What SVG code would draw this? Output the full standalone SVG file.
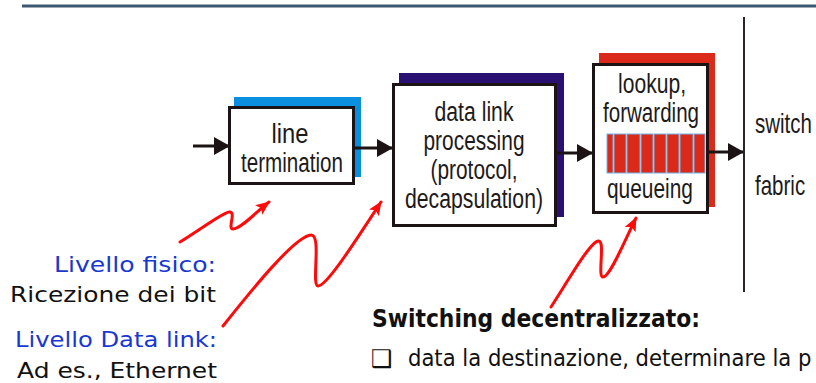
<svg xmlns="http://www.w3.org/2000/svg" width="816" height="383" viewBox="0 0 816 383">
<style>
.box{fill:#fff;stroke:#1c1414;stroke-width:3}
.bt{font-family:"Liberation Sans",Arial,sans-serif;font-size:27px;fill:#1e1a1a;text-anchor:middle}
.st{font-family:"Liberation Sans",Arial,sans-serif;font-size:27px;fill:#1e1a1a}
.lbl{font-family:"DejaVu Sans","Noto Sans",sans-serif;font-size:22px;text-anchor:end}
.blue{fill:#1838d0}
.blk{fill:#111}
.conn{fill:none;stroke:#1c1414;stroke-width:3}
.red{fill:none;stroke:#ff0a0a;stroke-width:3;stroke-linecap:round}
.body{font-family:"DejaVu Sans","Noto Sans",sans-serif;fill:#111}
</style>
<defs>
<marker id="ah" markerUnits="userSpaceOnUse" markerWidth="16" markerHeight="18" refX="15" refY="9" orient="auto">
<path d="M0,0 L16,9 L0,18 z" fill="#1c1414"/>
</marker>
<marker id="rh" markerUnits="userSpaceOnUse" markerWidth="14" markerHeight="12" refX="13" refY="6" orient="auto">
<path d="M0,0 L14,6 L0,12 L3,6 z" fill="#ff0a0a"/>
</marker>
</defs>
<line x1="22" y1="6" x2="816" y2="6" stroke="#3a5870" stroke-width="3"/>
<line x1="744" y1="17" x2="744" y2="292" stroke="#2a2424" stroke-width="2"/>
<g id="line-termination">
<rect x="234" y="97" width="127" height="80" fill="#0a8fe0"/>
<rect class="box" x="229.5" y="107.5" width="124" height="76"/>
<text class="bt" x="290" y="143" textLength="37" lengthAdjust="spacingAndGlyphs" font-size="28">line</text>
<text class="bt" x="292" y="172" textLength="102" lengthAdjust="spacingAndGlyphs" font-size="28">termination</text>
</g>
<g id="data-link-processing">
<rect x="399" y="73" width="165" height="144" fill="#2a1070"/>
<rect class="box" x="393.5" y="84.5" width="162" height="141"/>
<text class="bt" x="474" y="121" textLength="79" lengthAdjust="spacingAndGlyphs">data link</text>
<text class="bt" x="474" y="150" textLength="101" lengthAdjust="spacingAndGlyphs">processing</text>
<text class="bt" x="474" y="179" textLength="87" lengthAdjust="spacingAndGlyphs">(protocol,</text>
<text class="bt" x="474" y="208" textLength="138" lengthAdjust="spacingAndGlyphs">decapsulation)</text>
</g>
<g id="lookup-forwarding-queueing">
<rect x="599" y="53" width="116" height="154" fill="#dc2a1a"/>
<rect class="box" x="593.5" y="64.5" width="114" height="148"/>
<text class="bt" x="652" y="93" textLength="68" lengthAdjust="spacingAndGlyphs">lookup,</text>
<text class="bt" x="651" y="122" textLength="96" lengthAdjust="spacingAndGlyphs">forwarding</text>
<g stroke="#70b4e8" stroke-width="1" fill="#dc2a1a">
<rect x="607" y="134" width="6" height="39"/>
<rect x="614" y="134" width="12" height="39"/>
<rect x="627" y="134" width="13" height="39"/>
<rect x="641" y="134" width="12" height="39"/>
<rect x="654" y="134" width="12" height="39"/>
<rect x="667" y="134" width="12" height="39"/>
<rect x="680" y="134" width="13" height="39"/>
<rect x="694" y="134" width="11" height="39"/>
</g>
<text class="bt" x="650" y="198" textLength="86" lengthAdjust="spacingAndGlyphs">queueing</text>
</g>
<g id="switch-fabric">
<text class="st" transform="translate(755,133) scale(0.76,1)">switch</text>
<text class="st" transform="translate(755,195) scale(0.76,1)">fabric</text>
</g>
<g id="connectors">
<line class="conn" x1="193" y1="146" x2="229" y2="146" marker-end="url(#ah)"/>
<line class="conn" x1="355" y1="148" x2="392" y2="148" marker-end="url(#ah)"/>
<line class="conn" x1="557" y1="153" x2="592" y2="153" marker-end="url(#ah)"/>
<line class="conn" x1="709" y1="152" x2="743" y2="152" marker-end="url(#ah)"/>
<path class="red" d="M180,242 C200,230 222,213 229,212 C237,211 227,229 233,229 C241,229 256,212 269,202" marker-end="url(#rh)"/>
<path class="red" d="M223,326 C250,292 295,236 311,235 C322,234 311,286 318,286 C327,286 356,240 381,202" marker-end="url(#rh)"/>
<path class="red" d="M551,307 C565,286 589,243 598,241 C606,239 597,277 603,277 C610,277 624,242 636,218" marker-end="url(#rh)"/>
</g>
<g id="labels">
<text class="lbl blue" x="216" y="272" font-size="23" textLength="162" lengthAdjust="spacingAndGlyphs">Livello fisico:</text>
<text class="lbl blk" x="216" y="302" font-size="23" textLength="206" lengthAdjust="spacingAndGlyphs">Ricezione dei bit</text>
<text class="lbl blue" x="217" y="347" font-size="23" textLength="202" lengthAdjust="spacingAndGlyphs">Livello Data link:</text>
<text class="lbl blk" x="217" y="378" font-size="23" textLength="200" lengthAdjust="spacingAndGlyphs">Ad es., Ethernet</text>
</g>
<g id="text-block">
<text class="body" x="372" y="327" font-size="25" font-weight="bold" textLength="328" lengthAdjust="spacingAndGlyphs">Switching decentralizzato:</text>
<text class="body" x="371" y="367" font-size="24">❑</text>
<text class="body" font-size="23" transform="translate(408,366) scale(0.92,1)">data la destinazione, determinare la p</text>
</g>
</svg>
